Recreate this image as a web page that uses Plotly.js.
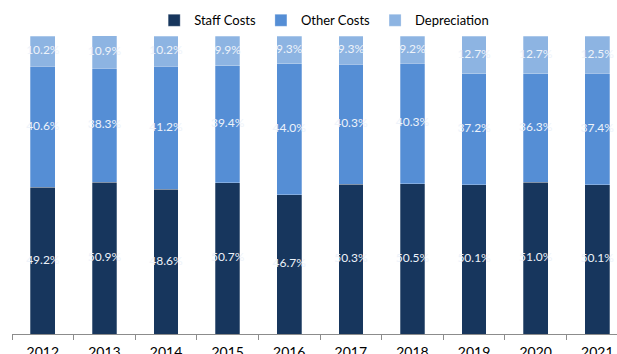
<!DOCTYPE html>
<html>
<head>
<meta charset="utf-8">
<script src="https://cdn.plot.ly/plotly-3.0.1.min.js"></script>
<style>html,body{margin:0;padding:0;background:#fff;}#chart{width:617px;height:354px;}</style>
</head>
<body>
<div id="chart"></div>
<script>
const years = ['2012','2013','2014','2015','2016','2017','2018','2019','2020','2021'];
const staffCosts = [49.2, 50.9, 48.6, 50.7, 46.7, 50.3, 50.5, 50.1, 51.0, 50.1];
const otherCosts = [40.6, 38.3, 41.2, 39.4, 44.0, 40.3, 40.3, 37.2, 36.3, 37.4];
const depreciation = [10.2, 10.9, 10.2, 9.9, 9.3, 9.3, 9.2, 12.7, 12.7, 12.5];

const series = [
  {name: 'Staff Costs', vals: staffCosts, color: '#17365D'},
  {name: 'Other Costs', vals: otherCosts, color: '#558ED5'},
  {name: 'Depreciation', vals: depreciation, color: '#8DB4E2'}
];
const data = [];
const base = years.map(() => 0);
series.forEach(s => {
  data.push({
    type: 'bar', name: s.name, x: years, y: s.vals,
    marker: {color: s.color, line: {color: 'rgba(255,255,255,0.45)', width: 0.6}},
    width: 0.4, hoverinfo: 'skip'
  });
});
const labelTraces = series.map(s => {
  const mids = s.vals.map((v, i) => base[i] + v / 2);
  s.vals.forEach((v, i) => { base[i] += v; });
  return {
    type: 'scatter', mode: 'text', x: years, y: mids, showlegend: false,
    text: s.vals.map(v => v.toFixed(1) + '%'), textposition: 'middle center',
    textfont: {family: 'Lato, sans-serif', size: 12, color: '#eef3fa'},
    hoverinfo: 'skip', cliponaxis: false
  };
});
const layout = {
  width: 617, height: 354,
  margin: {l: 12, r: 0, t: 36, b: 20},
  barmode: 'stack',
  paper_bgcolor: '#fff', plot_bgcolor: '#fff',
  showlegend: true,
  legend: {orientation: 'h', x: 0.516, xanchor: 'center', y: 0.985, yanchor: 'top', yref: 'container',
    font: {family: 'Lato, sans-serif', size: 13, color: '#000'}, traceorder: 'normal'},
  xaxis: {type: 'category', range: [-0.5, 9.32], tickson: 'boundaries', ticks: 'outside', ticklen: 5,
    tickcolor: '#8c8c8c', showline: true, linecolor: '#8c8c8c', linewidth: 1, showgrid: false,
    ticklabelstandoff: 5,
    tickfont: {family: 'Lato, sans-serif', size: 14, color: '#000'}, fixedrange: true},
  yaxis: {range: [0, 100], visible: false, showgrid: false, zeroline: false, fixedrange: true},
  font: {family: 'Lato, sans-serif'}
};
Plotly.newPlot('chart', data.concat(labelTraces), layout, {staticPlot: true, displayModeBar: false});
</script>
</body>
</html>
